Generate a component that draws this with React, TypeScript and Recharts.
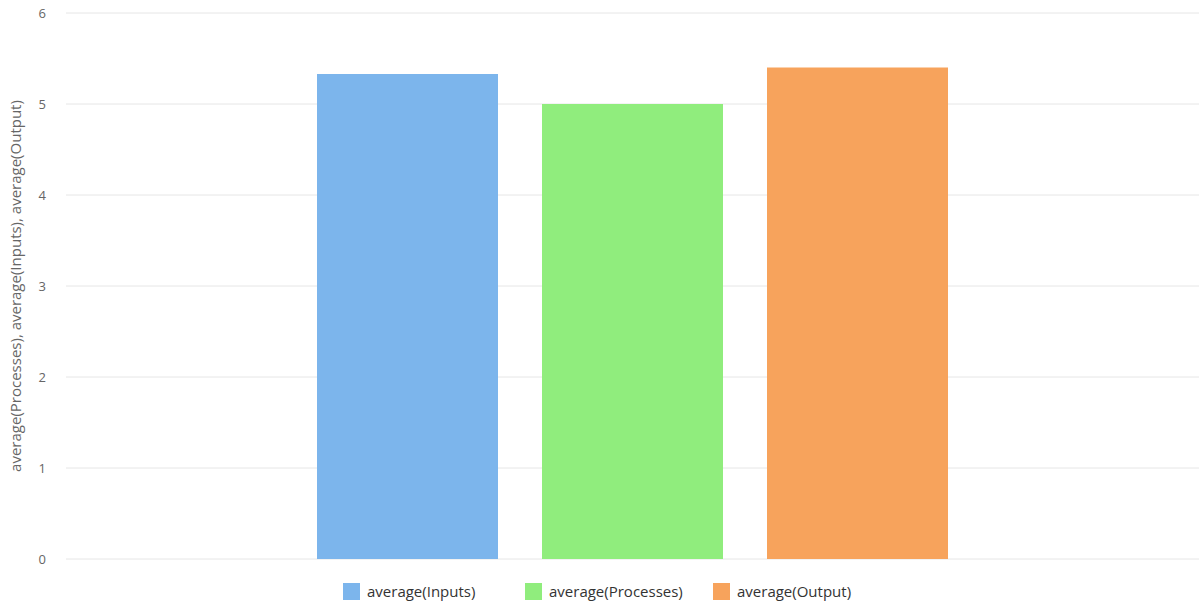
import React from 'react';
import { BarChart, Bar, XAxis, YAxis, CartesianGrid, Legend } from 'recharts';

const categories = ['All'];
const seriesNames = ['average(Inputs)', 'average(Processes)', 'average(Output)'];
const seriesKeys = ['inputs', 'processes', 'output'];
const seriesColors = ['#7cb5ec', '#90ed7d', '#f7a35c'];
const inputsValues = [5.33];
const processesValues = [5.0];
const outputValues = [5.4];
const yTicks = [0, 1, 2, 3, 4, 5, 6];

const data = categories.map((name, i) => ({
  name,
  inputs: inputsValues[i],
  processes: processesValues[i],
  output: outputValues[i],
}));

const FONT = '"Open Sans", "DejaVu Sans", sans-serif';

// Legend entries sit in fixed-width slots so the spacing stays even
const legendSlotWidths = [182, 188, 180];

const LegendContent = () => (
  <div
    style={{
      display: 'flex',
      justifyContent: 'flex-start',
      paddingLeft: 343,
      fontFamily: FONT,
      fontSize: 15,
      color: '#333',
      height: 30,
      alignItems: 'center',
    }}
  >
    {seriesNames.map((n, i) => (
      <div key={n} style={{ display: 'flex', alignItems: 'center', width: legendSlotWidths[i] }}>
        <span
          style={{
            display: 'inline-block',
            width: 17,
            height: 17,
            background: seriesColors[i],
            marginRight: 7,
          }}
        />
        <span>{n}</span>
      </div>
    ))}
  </div>
);

export default function App() {
  return (
    <div style={{ position: 'absolute', left: 0, top: 0, background: '#fff' }}>
      <BarChart
        width={1199}
        height={608}
        data={data}
        margin={{ top: 13, right: 0, bottom: 19, left: 0 }}
        barGap={44}
        barSize={181}
      >
        <CartesianGrid vertical={false} stroke="#e6e6e6" />
        <XAxis dataKey="name" hide />
        <YAxis
          width={66}
          domain={[0, 6]}
          ticks={yTicks}
          axisLine={false}
          tickLine={false}
          tickSize={0}
          tickMargin={20}
          tick={{ fill: '#666', fontSize: 13, fontFamily: FONT }}
          label={{
            value: 'average(Processes), average(Inputs), average(Output)',
            angle: -90,
            position: 'insideLeft',
            dx: 11,
            style: { textAnchor: 'middle', fill: '#666', fontSize: 15, fontFamily: FONT },
          }}
        />
        <Legend
          verticalAlign="bottom"
          height={30}
          wrapperStyle={{ bottom: 2 }}
          content={<LegendContent />}
        />
        {seriesKeys.map((k, i) => (
          <Bar key={k} dataKey={k} name={seriesNames[i]} fill={seriesColors[i]} isAnimationActive={false} />
        ))}
      </BarChart>
    </div>
  );
}
